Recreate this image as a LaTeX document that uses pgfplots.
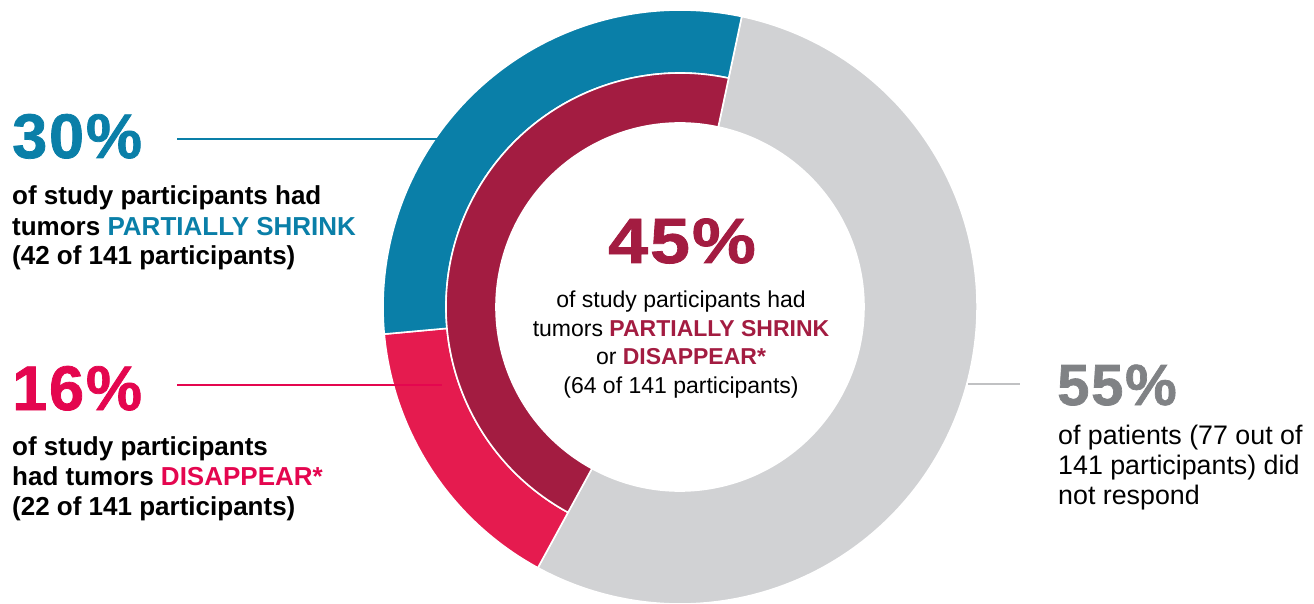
\documentclass[border=0pt]{standalone}
\usepackage{pgfplots}
\pgfplotsset{compat=1.18}
\usepackage{pgfplotstable}
\usepackage{fontspec}
\setmainfont{Liberation Sans}
\usepackage{graphicx}

\definecolor{cblue}{HTML}{0A7FA8}
\definecolor{cpink}{HTML}{E51B4F}
\definecolor{tpink}{HTML}{E4064F}
\definecolor{cdark}{HTML}{A31C41}
\definecolor{cgray}{HTML}{D1D2D4}
\definecolor{tgray}{HTML}{808285}

% donut data: participants (of 141)
\pgfplotstableread{
ring   part        count
outer  none        77
outer  disappear   22
outer  partial     42
inner  none        77
inner  responded   64
}\donut

\newcommand{\bignum}[2]{{\fontsize{#1}{#1}\selectfont\bfseries\addfontfeature{FakeBold=1.2,LetterSpace=3}#2}}

\begin{document}
\begin{tikzpicture}
\pgfplotstablegetelem{0}{count}\of\donut \pgfmathsetmacro{\cNone}{\pgfplotsretval}
\pgfplotstablegetelem{1}{count}\of\donut \pgfmathsetmacro{\cDis}{\pgfplotsretval}
\pgfplotstablegetelem{2}{count}\of\donut \pgfmathsetmacro{\cPart}{\pgfplotsretval}
\pgfplotstablegetelem{4}{count}\of\donut \pgfmathsetmacro{\cResp}{\pgfplotsretval}
\pgfmathsetmacro{\tot}{\cNone+\cDis+\cPart}
\pgfmathsetmacro{\deg}{360/\tot}
\pgfmathsetmacro{\aA}{78}
\pgfmathsetmacro{\aB}{\aA-\deg*\cNone}
\pgfmathsetmacro{\aC}{\aB-\deg*\cDis}
\pgfmathsetmacro{\aD}{\aC-\deg*\cPart}
\pgfmathsetmacro{\aR}{\aB-\deg*\cResp}
\begin{axis}[x=1pt, y=1pt, xmin=0, xmax=1314, ymin=0, ymax=603,
  hide axis, clip=true, anchor=south west, at={(0,0)}]
\coordinate (C) at (axis cs:680,296);
% no response (both rings)
\filldraw[fill=cgray, draw=white, line width=1.6pt]
  ([shift={(\aA:297pt)}]C) arc[start angle=\aA, end angle=\aB, radius=297pt]
  -- ([shift={(\aB:184pt)}]C) arc[start angle=\aB, end angle=\aA, radius=184pt] -- cycle;
% disappear
\filldraw[fill=cpink, draw=white, line width=1.6pt]
  ([shift={(\aB:297pt)}]C) arc[start angle=\aB, end angle=\aC, radius=297pt]
  -- ([shift={(\aC:234pt)}]C) arc[start angle=\aC, end angle=\aB, radius=234pt] -- cycle;
% partially shrink
\filldraw[fill=cblue, draw=white, line width=1.6pt]
  ([shift={(\aC:297pt)}]C) arc[start angle=\aC, end angle=\aD, radius=297pt]
  -- ([shift={(\aD:234pt)}]C) arc[start angle=\aD, end angle=\aC, radius=234pt] -- cycle;
% responded (inner)
\filldraw[fill=cdark, draw=white, line width=1.6pt]
  ([shift={(\aB:234pt)}]C) arc[start angle=\aB, end angle=\aR, radius=234pt]
  -- ([shift={(\aR:184pt)}]C) arc[start angle=\aR, end angle=\aB, radius=184pt] -- cycle;

% leader lines
\addplot[cblue, line width=2pt] coordinates {(177,464) (438,464)};
\addplot[tpink, line width=2pt] coordinates {(177,218) (442,218)};
\addplot[cgray!92!black, line width=2pt] coordinates {(968,219) (1020,219)};

% left block 1
\node[anchor=base west, inner sep=0pt, text=cblue] at (axis cs:12,445) {\bignum{63}{30\%}};
\begin{scope}[every node/.style={anchor=base west, inner sep=0pt, font=\fontsize{26}{30}\selectfont\bfseries}]
\node at (axis cs:12,398) {of study participants had};
\node at (axis cs:12,367) {tumors \textcolor{cblue}{PARTIALLY SHRINK}};
\node at (axis cs:12,338) {(42 of 141 participants)};
\node[text=tpink] at (axis cs:12,193) {\bignum{63}{16\%}};
\node at (axis cs:12,148) {of study participants};
\node at (axis cs:12,118) {had tumors \textcolor{tpink}{DISAPPEAR*}};
\node at (axis cs:12,88) {(22 of 141 participants)};
\end{scope}

% centre
\node[anchor=base, inner sep=0pt, text=cdark] at (axis cs:682,340) {\scalebox{1.12}[1]{\bignum{64}{45\%}}};
\begin{scope}[every node/.style={anchor=base, inner sep=0pt, font=\fontsize{23}{28}\selectfont}]
\node at (axis cs:681,295) {of study participants had};
\node at (axis cs:681,266) {tumors \textcolor{cdark}{\bfseries PARTIALLY SHRINK}};
\node at (axis cs:681,238) {or \textcolor{cdark}{\bfseries DISAPPEAR*}};
\node at (axis cs:681,210) {(64 of 141 participants)};
\end{scope}

% right block
\node[anchor=base west, inner sep=0pt, text=tgray] at (axis cs:1057,198) {\bignum{58}{55\%}};
\begin{scope}[every node/.style={anchor=base west, inner sep=0pt, font=\fontsize{26.8}{30}\selectfont}]
\node at (axis cs:1058,159) {of patients (77 out of};
\node at (axis cs:1058,129) {141 participants) did};
\node at (axis cs:1058,99) {not respond};
\end{scope}
\end{axis}
\pgfresetboundingbox
\useasboundingbox (current axis.south west) rectangle (current axis.north east);
\end{tikzpicture}
\end{document}
